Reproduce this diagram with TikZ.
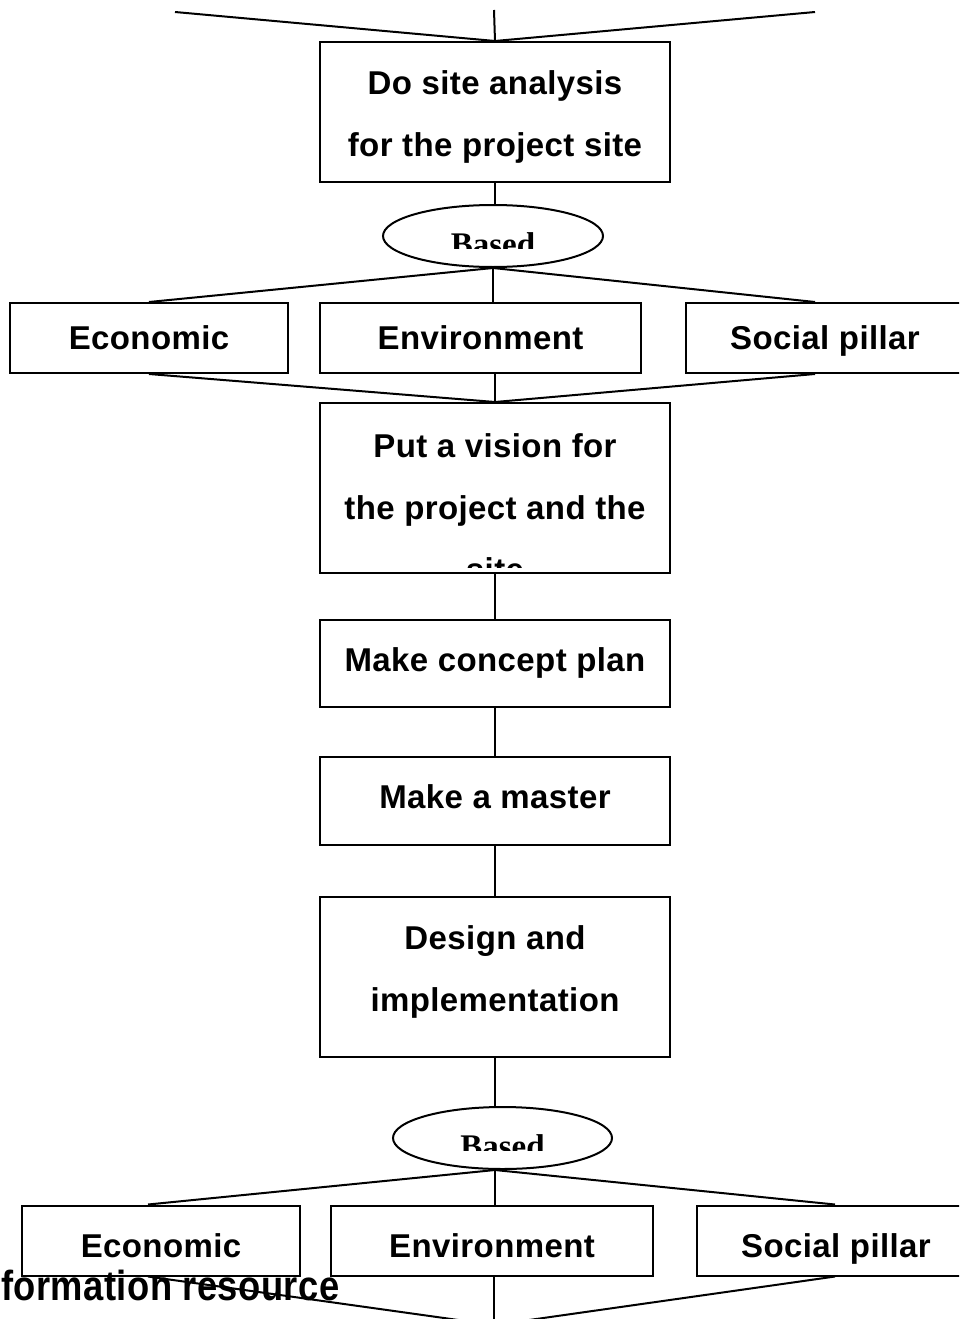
\documentclass[tikz,border=0pt]{standalone}
\usepackage{fontspec}
\setmainfont{Liberation Sans}[LetterSpace=1.2]
\newfontfamily\basedfont{Liberation Serif}
\usetikzlibrary{shapes.geometric}

\tikzset{
  stepbox/.style={draw, line width=2pt, minimum width=350pt, inner sep=0pt},
  steplabel/.style={anchor=base, align=center, inner sep=0pt, font=\bfseries\fontsize{33}{62}\selectfont},
  pillar/.style={draw, line width=2pt, minimum height=70pt, inner sep=0pt, text height=23.6pt, text depth=0pt, font=\bfseries\fontsize{33}{40}\selectfont},
  basedbox/.style={draw, ellipse, line width=2pt, minimum width=220pt, minimum height=62pt, inner sep=0pt},
  basedlabel/.style={anchor=base, inner sep=0pt, font=\basedfont\bfseries\fontsize{33}{40}\selectfont},
  link/.style={line width=2pt},
}

\begin{document}
\begin{tikzpicture}[x=1pt, y=-1pt]
    \useasboundingbox (0,0) rectangle (959,1319);
    \clip (0,0) rectangle (959,1319);

    % main column
    \node[stepbox, minimum height=140pt] (site) at (495,112) {};
    \node[basedbox] (based1) at (493,236) {};
    \node[pillar, minimum width=278pt] (eco1) at (149,338) {Economic};
    \node[pillar, minimum width=321pt] (env1) at (480.5,338) {Environment};
    \node[pillar, minimum width=278pt] (soc1) at (825,338) {Social pillar};
    \node[stepbox, minimum height=170pt] (vision) at (495,488) {};
    \node[stepbox, minimum height=87pt] (concept) at (495,663.5) {};
    \node[stepbox, minimum height=88pt] (master) at (495,801) {};
    \node[stepbox, minimum height=160pt] (design) at (495,977) {};
    \node[basedbox, minimum width=219pt] (based2) at (502.5,1138) {};
    \node[pillar, minimum width=278pt, text height=34pt] (eco2) at (161,1240.5) {Economic};
    \node[pillar, minimum width=322pt, text height=34pt] (env2) at (492,1240.5) {Environment};
    \node[pillar, minimum width=278pt, text height=34pt] (soc2) at (836,1240.5) {Social pillar};

    % box texts (base = last line)
    \node[steplabel] (sitetxt) at ([yshift=-115pt]site.north) {Do site analysis\\for the project site};
    \begin{scope}
        \clip ([yshift=7pt]vision.south west) rectangle (vision.north east);
        \node[steplabel] (visiontxt) at ([yshift=-179pt]vision.north) {Put a vision for\\the project and the\\site};
    \end{scope}
    \node[steplabel] (concepttxt) at ([yshift=-52pt]concept.north) {Make concept plan};
    \node[steplabel] (mastertxt) at ([yshift=-52pt]master.north) {Make a master};
    \node[steplabel] (designtxt) at ([yshift=-115pt]design.north) {Design and\\implementation};
    \begin{scope}
        \clip (based1.west |- based1.north) rectangle ([yshift=-12pt]based1.east);
        \node[basedlabel] (based1txt) at ([yshift=-19pt]based1.center) {Based};
    \end{scope}
    \begin{scope}
        \clip (based2.west |- based2.north) rectangle ([yshift=-12pt]based2.east);
        \node[basedlabel] (based2txt) at ([yshift=-19pt]based2.center) {Based};
    \end{scope}
    \node[anchor=base west, inner sep=0pt, font=\bfseries\fontsize{42}{48}\selectfont] (info) at (1,1300) {\scalebox{0.865}[1]{formation resource}};

    % connectors
    \coordinate (srcL) at (175,12);
    \coordinate (srcM) at (494,10);
    \coordinate (srcR) at (815,12);
    \draw[link] (srcL) -- (site.north);
    \draw[link] (srcM) -- (site.north);
    \draw[link] (srcR) -- (site.north);
    \draw[link] (site.south) -- (site.south |- based1.north);
    \draw[link] (based1.south) -- (eco1.north);
    \draw[link] (based1.south) -- (based1.south |- env1.north);
    \draw[link] (based1.south) -- ([xshift=-10pt]soc1.north);
    \draw[link] (eco1.south) -- (vision.north);
    \draw[link] (vision.north |- env1.south) -- (vision.north);
    \draw[link] ([xshift=-10pt]soc1.south) -- (vision.north);
    \draw[link] (vision.south) -- (concept.north);
    \draw[link] (concept.south) -- (master.north);
    \draw[link] (master.south) -- (design.north);
    \draw[link] (design.south) -- (design.south |- based2.north);
    \coordinate (fan) at (design.south |- based2.south);
    \draw[link] (fan) -- ([xshift=-13pt]eco2.north);
    \draw[link] (fan) -- (fan |- env2.north);
    \draw[link] (fan) -- ([xshift=-1pt]soc2.north);
    \coordinate (sink) at (494,1325);
    \draw[link] ([xshift=-13pt]eco2.south) -- (sink);
    \draw[link] (sink |- env2.south) -- (sink);
    \draw[link] ([xshift=-1pt]soc2.south) -- (sink);
\end{tikzpicture}
\end{document}
